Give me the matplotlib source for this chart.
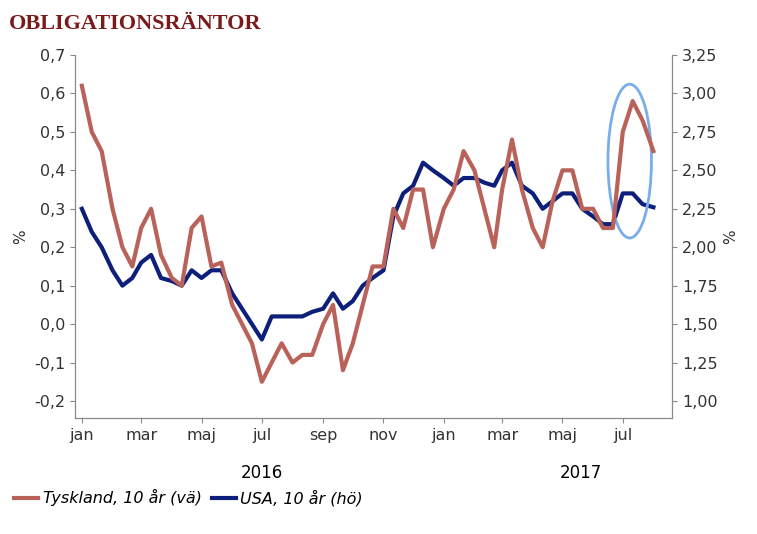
import matplotlib
matplotlib.use("Agg")
import matplotlib.pyplot as plt
import matplotlib.dates as mdates
from matplotlib.patches import Ellipse
import datetime as dt

germany = [0.62,0.50,0.45, 0.30,0.20,0.15, 0.25,0.30,0.18, 0.12,0.10,0.25, 0.28,0.15,0.16,
           0.05,0.00,-0.05, -0.15,-0.10,-0.05, -0.10,-0.08,-0.08, 0.00,0.05,-0.12,
           -0.05,0.05,0.15, 0.15,0.30,0.25, 0.35,0.35,0.20,
           0.30,0.35,0.45, 0.40,0.30,0.20, 0.35,0.48,0.35, 0.25,0.20,0.32, 0.40,0.40,0.30,
           0.30,0.25,0.25, 0.50,0.58,0.53, 0.45]
usa = [2.25,2.10,2.00, 1.85,1.75,1.80, 1.90,1.95,1.80, 1.78,1.75,1.85, 1.80,1.85,1.85,
       1.70,1.60,1.50, 1.40,1.55,1.55, 1.55,1.55,1.58, 1.60,1.70,1.60,
       1.65,1.75,1.80, 1.85,2.20,2.35, 2.40,2.55,2.50,
       2.45,2.40,2.45, 2.45,2.42,2.40, 2.50,2.55,2.40, 2.35,2.25,2.30, 2.35,2.35,2.25,
       2.20,2.15,2.15, 2.35,2.35,2.28, 2.26]
dates = []
y, m = 2016, 1
while len(dates) < len(germany):
    for d in (1, 11, 21):
        dates.append(dt.date(y, m, d))
    m += 1
    if m > 12:
        m, y = 1, y + 1
dates = dates[:len(germany)]

month_ticks = [dt.date(2016,1,1),dt.date(2016,3,1),dt.date(2016,5,1),dt.date(2016,7,1),
               dt.date(2016,9,1),dt.date(2016,11,1),dt.date(2017,1,1),dt.date(2017,3,1),
               dt.date(2017,5,1),dt.date(2017,7,1)]
month_labels = ["jan","mar","maj","jul","sep","nov","jan","mar","maj","jul"]

red = "#b8625a"; navy = "#0d1f7a"; grey = "#888888"
fig = plt.figure(figsize=(7.57,5.34), dpi=100)
ax = fig.add_axes([0.099, 1-418/534, 0.789, (418-55)/534])
ax2 = ax.twinx()
ax.plot(dates, germany, color=red, lw=3, label="Tyskland, 10 år (vä)")
ax2.plot(dates, usa, color=navy, lw=3, label="USA, 10 år (hö)")
ax.set_zorder(ax2.get_zorder()+1); ax.patch.set_visible(False)
lo = -0.2 - 17/384.4
ax.set_ylim(lo, 0.7)
ax2.set_ylim(1.0 + (lo+0.2)*2.5, 3.25)
ax.set_yticks([i/10 for i in range(-2,8)])
ax.set_yticklabels([f"{i/10:.1f}".replace(".",",") for i in range(-2,8)])
ax2.set_yticks([1+0.25*i for i in range(10)])
ax2.set_yticklabels([f"{1+0.25*i:.2f}".replace(".",",") for i in range(10)])
ax.set_xlim(dt.date(2015,12,25), dt.date(2017,8,20))
ax.set_xticks(month_ticks); ax.set_xticklabels(month_labels)
for a in (ax, ax2):
    for s in a.spines.values(): s.set_color(grey)
    a.spines["top"].set_visible(False)
    a.tick_params(colors="#333333", labelsize=11.5, color=grey)
ax.set_ylabel("%", fontsize=11, color="#333333")
ax2.set_ylabel("%", fontsize=11, color="#333333", rotation=90)
ax.text(dt.date(2016,7,1), -0.165, "2016", transform=ax.get_xaxis_transform(), ha="center", fontsize=12)
ax.text(dt.date(2017,5,20), -0.165, "2017", transform=ax.get_xaxis_transform(), ha="center", fontsize=12)
ell = Ellipse((mdates.date2num(dt.date(2017,7,8)), 0.424), width=44, height=0.40,
              fill=False, edgecolor="#7aaee8", lw=2)
ax.add_patch(ell)
fig.text(0.012, 0.955, "OBLIGATIONSRÄNTOR", fontsize=16, fontweight="bold",
         color="#7a1a1a", family="Liberation Serif", va="center")
h1, l1 = ax.get_legend_handles_labels(); h2, l2 = ax2.get_legend_handles_labels()
fig.legend(h1+h2, l1+l2, loc="lower left", bbox_to_anchor=(0.0, 0.025), ncol=2, frameon=False,
           prop={"style":"italic","size":11.5}, handlelength=1.5, columnspacing=0.6, handletextpad=0.3)
fig.savefig("out.png", dpi=100)
